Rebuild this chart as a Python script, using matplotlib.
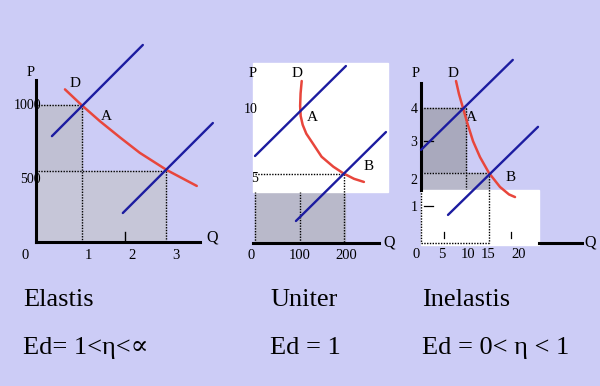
import matplotlib
matplotlib.use("Agg")
import matplotlib.pyplot as plt
from matplotlib.patches import Rectangle

# --- panel 1: elastis ---
d1_q = [0.62, 1.0, 1.43, 1.89, 2.34, 2.96, 3.65]
d1_p = [1119, 1000, 875, 752, 636, 505, 384]
s1a_q, s1a_p = [0.32, 2.41], [763, 1457]
s1b_q, s1b_p = [1.95, 4.02], [178, 863]
p1_ticks = [1000, 500]
q1_ticks = [1, 2, 3]

# --- panel 2: uniter ---
d2_q = [103.8, 101.3, 100.3, 101.5, 106, 114, 126, 148, 174, 196, 220, 242]
d2_p = [12.38, 11.4, 10.4, 9.6, 8.9, 8.2, 7.56, 6.37, 5.58, 5.06, 4.62, 4.37]
s2a_q, s2a_p = [0, 202], [6.43, 13.57]
s2b_q, s2b_p = [91, 291], [1.27, 8.33]
p2_ticks = [10, 5]
q2_ticks = [100, 200]

# --- panel 3: inelastis ---
d3_q = [7.78, 8.44, 9.33, 10.33, 11.56, 13.11, 15.11, 17.56, 19.56, 20.89]
d3_p = [4.83, 4.43, 4.0, 3.52, 2.98, 2.49, 2.0, 1.57, 1.34, 1.26]
s3a_q, s3a_p = [0, 20.4], [2.71, 5.48]
s3b_q, s3b_p = [6, 26], [0.71, 3.42]
p3_ticks = [4, 3, 2, 1]
q3_ticks = [5, 10, 15, 20]

titles = ["Elastis", "Uniter", "Inelastis"]
formulas = ["Ed= 1<η<∝", "Ed = 1", "Ed = 0< η < 1"]
title_x = [23, 270, 422]

BG = "#ccccf6"
RED = "#e8463c"
BLUE = "#1c1ca0"
W, H = 600, 386
SERIF = ["Liberation Serif", "DejaVu Serif"]

fig = plt.figure(figsize=(6, 3.86), dpi=100)
fig.patch.set_facecolor(BG)


def panel(x0, sx, y0, sy):
    # axes spanning the whole figure, mapped so data hit the right pixels
    ax = fig.add_axes([0, 0, 1, 1])
    ax.set_xlim(-x0 / sx, (W - x0) / sx)
    ax.set_ylim((y0 - H) / sy, y0 / sy)
    ax.axis("off")
    ax.patch.set_alpha(0)
    return ax


def label(ax, x, y, s, size=10.5, ha="center"):
    ax.text(x, y, s, ha=ha, va="center", fontsize=size, family=SERIF)


def dotted(ax, xs, ys):
    ax.plot(xs, ys, color="black", lw=1.0, ls=(0, (1, 1)), zorder=3)


def curve(ax, xs, ys, color, lw):
    ax.plot(xs, ys, color=color, lw=lw, zorder=5,
            solid_joinstyle="round", solid_capstyle="round")


# panel 1
ax1 = panel(38, 43.5, 236.4, 0.1314)
ax1.add_patch(Rectangle((-0.05, -40), 3.0, 540, color="#c6c6d8", zorder=1))
ax1.add_patch(Rectangle((-0.05, 500), 1.05, 500, color="#c0c0d3", zorder=1))
dotted(ax1, [0, 1.0], [1000, 1000])
dotted(ax1, [1.0, 1.0], [1000, -40])
dotted(ax1, [0, 2.95], [500, 500])
dotted(ax1, [2.95, 2.95], [500, -40])
ax1.plot([-0.05, -0.05], [-40, 1190], color="black", lw=2.2, zorder=4)
ax1.plot([-0.05, 3.72], [-40, -40], color="black", lw=2.2, zorder=4)
ax1.plot([2, 2], [-40, 34], color="black", lw=1.0, zorder=4)
curve(ax1, d1_q, d1_p, RED, 1.8)
curve(ax1, s1a_q, s1a_p, BLUE, 1.7)
curve(ax1, s1b_q, s1b_p, BLUE, 1.7)
label(ax1, -0.23, p1_ticks[0], str(p1_ticks[0]), 10)
label(ax1, -0.18, p1_ticks[1] - 70, str(p1_ticks[1]), 10)
label(ax1, -0.3, -142, "0")
for q in q1_ticks:
    label(ax1, q + 0.16, -142, str(q))
label(ax1, -0.16, 1244, "P")
label(ax1, 4.0, -12, "Q", 11.5)
label(ax1, 0.85, 1167, "D", 11)
label(ax1, 1.56, 916, "A", 11)

# panel 2
ax2 = panel(255, 0.45, 237, 12.6)
ax2.add_patch(Rectangle((0, -0.476), 200, 5.476, color="#b9b9ca", zorder=1))
dotted(ax2, [0, 0], [-0.476, 3.6])
dotted(ax2, [q2_ticks[0], q2_ticks[0]], [-0.476, 3.6])
ax2.add_patch(Rectangle((-4.4, 3.57), 300.4, 10.23, color="white", zorder=2))
dotted(ax2, [0, 198], [5, 5])
dotted(ax2, [198, 198], [5, -0.476])
ax2.plot([-4.4, 275.6], [-0.476, -0.476], color="black", lw=2.2, zorder=4)
curve(ax2, d2_q, d2_p, RED, 1.8)
curve(ax2, s2a_q, s2a_p, BLUE, 1.7)
curve(ax2, s2b_q, s2b_p, BLUE, 1.7)
label(ax2, -8.9, p2_ticks[0] + 0.08, str(p2_ticks[0]), 10)
label(ax2, 0, p2_ticks[1] - 0.32, str(p2_ticks[1]), 10)
label(ax2, -8.9, -1.43, "0")
label(ax2, q2_ticks[0], -1.43, str(q2_ticks[0]))
label(ax2, q2_ticks[1] + 2, -1.43, str(q2_ticks[1]))
label(ax2, -4.4, 12.94, "P")
label(ax2, 298, -0.4, "Q", 11.5)
label(ax2, 93, 13.0, "D", 11)
label(ax2, 127, 9.5, "A", 11)
label(ax2, 253, 5.56, "B", 11)

# panel 3
ax3 = panel(421, 4.5, 238, 32.5)
ax3.add_patch(Rectangle((0, 2), 10, 2, color="#a9a9bd", zorder=1))
ax3.add_patch(Rectangle((0, -0.15), 15, 2.15, color="#b8b8ca", zorder=1))
dotted(ax3, [0, 10], [4, 4])
dotted(ax3, [10, 10], [4, 1.5])
ax3.add_patch(Rectangle((0, -0.215), 26.2, 1.695, color="white", zorder=2))
dotted(ax3, [0, 15], [2, 2])
dotted(ax3, [15, 15], [2, -0.15])
dotted(ax3, [0, 15], [-0.15, -0.15])
dotted(ax3, [0, 0], [1.48, -0.15])
ax3.plot([0, 0], [1.48, 4.77], color="black", lw=2.2, zorder=4)
ax3.plot([26.2, 35.8], [-0.154, -0.154], color="black", lw=2.2, zorder=4)
for p in [1, 3]:
    ax3.plot([0.6, 2.6], [p, p], color="black", lw=0.9, zorder=4)
for q in [5, 20]:
    ax3.plot([q, q], [0, 0.18], color="black", lw=0.9, zorder=4)
curve(ax3, d3_q, d3_p, RED, 1.8)
curve(ax3, s3a_q, s3a_p, BLUE, 1.7)
curve(ax3, s3b_q, s3b_p, BLUE, 1.7)
for p, dy in zip(p3_ticks, [-0.06, -0.05, -0.22, -0.05]):
    label(ax3, -1.56, p + dy, str(p), 10)
label(ax3, -1.1, -0.52, "0")
for q, dx in zip(q3_ticks, [-0.3, 0.4, -0.1, 1.6]):
    label(ax3, q + dx, -0.52, str(q))
label(ax3, -1.1, 5.05, "P")
label(ax3, 37.5, -0.15, "Q", 11.5)
label(ax3, 7.1, 5.05, "D", 11)
label(ax3, 11.1, 3.72, "A", 11)
label(ax3, 20.0, 1.85, "B", 11)

# captions under the panels
for x, t, f in zip(title_x, titles, formulas):
    fig.text(x / W, 1 - 306 / H, t, fontsize=19, family=SERIF, va="baseline")
    fig.text(x / W, 1 - 354 / H, f, fontsize=19, family=SERIF, va="baseline")

fig.savefig("out.png", dpi=100, facecolor=BG)
